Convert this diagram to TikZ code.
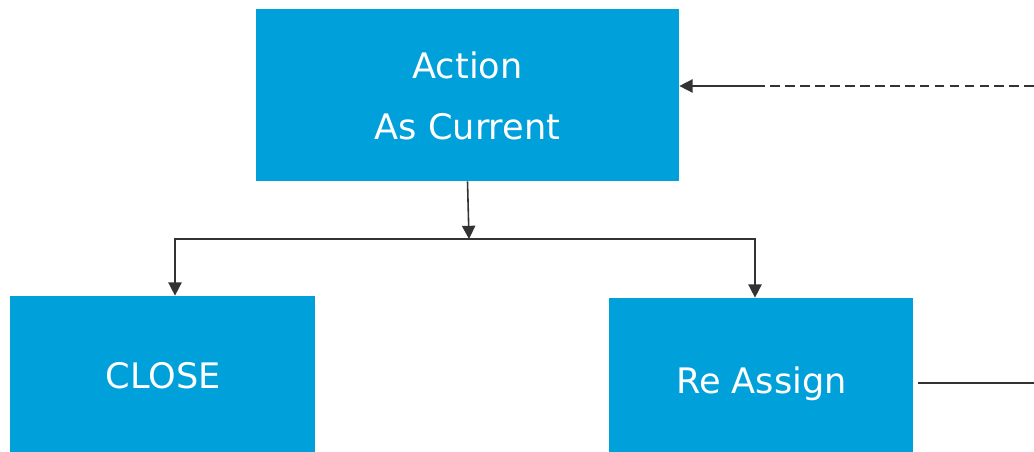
\documentclass[tikz,border=0pt]{standalone}
\usepackage{fontspec}
\setmainfont{DejaVu Sans}
\usetikzlibrary{arrows.meta, positioning}
\definecolor{boxblue}{RGB}{0,160,218}
\definecolor{linegray}{RGB}{51,51,51}

\begin{document}
\begin{tikzpicture}[x=0.02cm, y=-0.02cm,
  stepbox/.style={rectangle, fill=boxblue, draw=none, inner sep=0pt},
  steptext/.style={text=white, align=center, anchor=base, inner sep=0pt,
    font=\fontsize{20}{35.2}\selectfont},
  flow/.style={draw=linegray, line width=0.9pt, -{Triangle[length=7.5pt, width=7.5pt]}},
  link/.style={draw=linegray, line width=0.9pt}
]
\useasboundingbox (0,0) rectangle (1034,452);
\clip (0,0) rectangle (1034,452);

%------------- Boxes
	\node[stepbox, minimum width=423*0.02cm, minimum height=172*0.02cm] (Action) at (467.5, 95) {};
	\node[stepbox, minimum width=305*0.02cm, minimum height=156*0.02cm] (Close) at (162.5, 374) {};
	\node[stepbox, minimum width=304*0.02cm, minimum height=154*0.02cm] (ReAssign) at (761, 375) {};

	% base of a two-line text is its last line
	\node[steptext] (Action_Text) at (467.5, 140) {Action\\As Current};
	\node[steptext] (Close_Text) at (163, 388) {CLOSE};
	\node[steptext] (ReAssign_Text) at (761.5, 393) {Re Assign};

%------------- Split
	\coordinate (Split) at (469, 239);

	\draw[flow] (Action.south) -- (Split);
	\draw[flow] (Split) -| ([xshift=12.5*0.02cm]Close.north);
	\draw[flow] (Split) -| ([xshift=-6*0.02cm]ReAssign.north);

%------------- Loop back
	\coordinate (Back_In) at (1034, 86);
	\coordinate (Back_Mid) at (762, 86);
	\draw[link, dashed, dash pattern=on 5.5pt off 3pt] (Back_In) -- (Back_Mid);
	\draw[flow] (Back_Mid) -- (Back_Mid -| Action.east);

	\coordinate (RA_Out) at (918, 383);
	\coordinate (RA_End) at (1034, 383);
	\draw[link] (RA_Out) -- (RA_End);

\end{tikzpicture}
\end{document}
